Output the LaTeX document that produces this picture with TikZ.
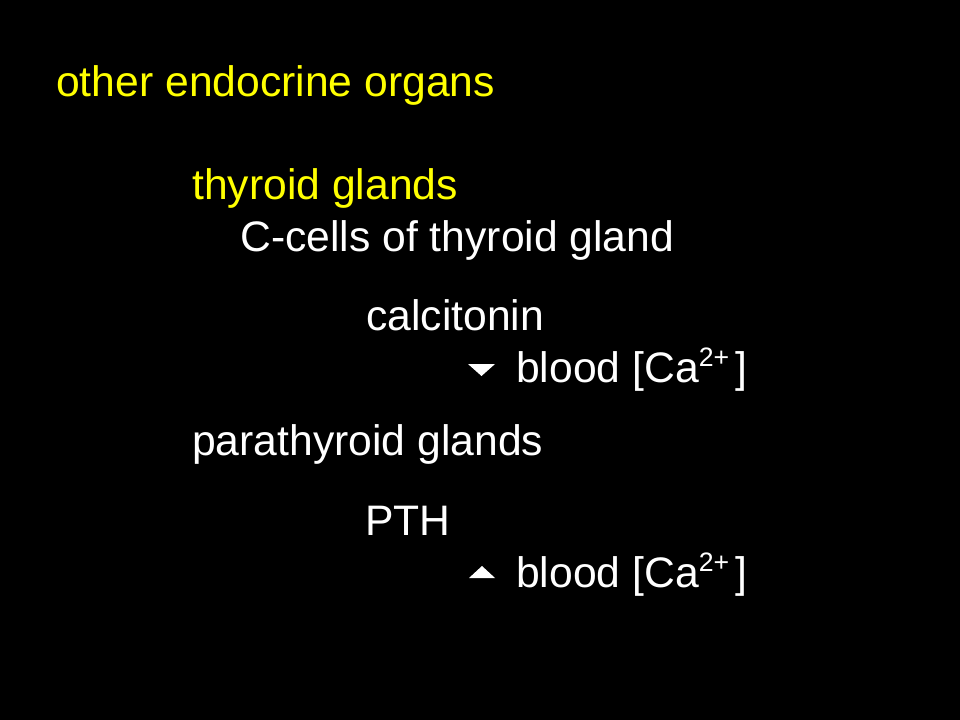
\documentclass[tikz,border=0pt]{standalone}
\usepackage{fontspec}
\setmainfont{Liberation Sans}
\newcommand{\ionsup}[1]{\raisebox{12pt}{\fontsize{20}{20}\selectfont #1}\hspace{4.5pt}}
\begin{document}
\begin{tikzpicture}[x=0.75pt,y=-0.75pt,
    txt/.style={anchor=base west,inner sep=0pt,font=\fontsize{32}{38}\selectfont},
    yel/.style={txt,text={rgb,255:red,255;green,255;blue,0}},
    wht/.style={txt,text=white}]
                    \fill[black] (0,0) rectangle (960,720);
                    \useasboundingbox (0,0) rectangle (960,720);

                    % Heading
                    \node[yel] (organs) at (56,97) {other endocrine organs};

                    % Thyroid
                    \node[yel] (thyroid) at (192,200) {thyroid glands};
                    \node[wht] (ccells) at (240,252) {C-cells of thyroid gland};
                    \node[wht] (calcitonin) at (366,330) {calcitonin};
                    \fill[white] (468,364) -- (495,364) -- (481.5,376) -- cycle;
                    \node[wht] (cadown) at (516,382) {blood [Ca\ionsup{2+}]};

                    % Parathyroid
                    \node[wht] (parathyroid) at (192,455) {parathyroid glands};
                    \node[wht] (pth) at (365,535) {PTH};
                    \fill[white] (469,578) -- (495,578) -- (482,566) -- cycle;
                    \node[wht] (caup) at (516,587) {blood [Ca\ionsup{2+}]};
                    \end{tikzpicture}
\end{document}
